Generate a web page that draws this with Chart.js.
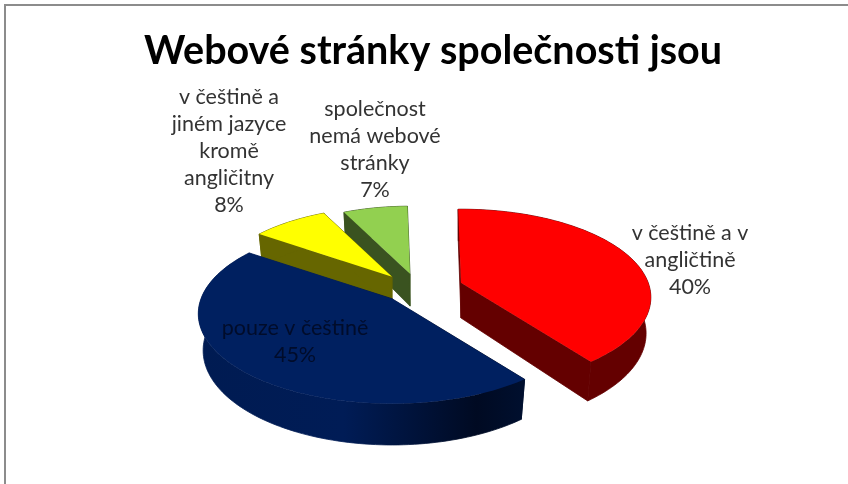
<!DOCTYPE html>
<html lang="cs">
<head>
<meta charset="utf-8">
<title>Webové stránky společnosti jsou</title>
<script src="https://cdn.jsdelivr.net/npm/chart.js@4"></script>
<style>
  html, body { margin: 0; background: #fff; overflow: hidden; }
  #chart { position: absolute; left: 0; top: 0; }
  #frame { position: absolute; left: 4px; top: 4px; right: -4px; bottom: -4px;
           border-left: 2px solid #8c8c8c; border-top: 2px solid #8c8c8c; }
</style>
</head>
<body>
<canvas id="chart" width="848" height="484"></canvas>
<div id="frame"></div>
<script>
const categories = [
  'v češtině a v angličtině',
  'pouze v češtině',
  'v češtině a jiném jazyce kromě angličitny',
  'společnost nemá webové stránky',
];
const shares = [40, 45, 8, 7];
const labelLines = [
  ['v češtině a v', 'angličtině'],
  ['pouze v češtině'],
  ['v češtině a', 'jiném jazyce', 'kromě', 'angličitny'],
  ['společnost', 'nemá webové', 'stránky'],
];

const topColors = ['#ff0000', '#002060', '#ffff00', '#92d050'];
const sideColors = ['#640000', '#001a4e', '#666600', '#3a5320'];
const labelColors = ['#333333', '#000c2a', '#333333', '#333333'];

// how far each wedge is pulled out of the pie, and its size after perspective
const explodeX = [28, -41, -41, -23];
const explodeY = [-13, 3, -19, -22];
const wedgeScale = [0.98, 1, 0.93, 0.9];
const labelX = [690, 295, 229, 375];
const labelY = [233, 328, 97, 109];

const TILT_H = 87.5;      // vertical half size of the flattened disc
const PERSPECTIVE = 1 / 6;
const DEPTH = 36;
const LINE_HEIGHT = 27;

function rimPoint(arc, i, angle, bottom) {
  const u = Math.cos(angle), v = Math.sin(angle);
  const w = 1 - PERSPECTIVE * v;
  const s = wedgeScale[i];
  const ox = arc.x + explodeX[i], oy = arc.y + explodeY[i];
  if (bottom) {
    return [ox + s * arc.outerRadius * 0.975 * u / w, oy + s * DEPTH + s * TILT_H * 1.05 * v / w];
  }
  return [ox + s * arc.outerRadius * u / w, oy + s * TILT_H * v / w];
}

function apexPoint(arc, i, bottom) {
  return [arc.x + explodeX[i], arc.y + explodeY[i] + (bottom ? wedgeScale[i] * DEPTH : 0)];
}

function fillPath(ctx, pts, fill, seal) {
  ctx.beginPath();
  pts.forEach((p, n) => (n ? ctx.lineTo(p[0], p[1]) : ctx.moveTo(p[0], p[1])));
  ctx.closePath();
  ctx.fillStyle = fill;
  ctx.fill();
  if (seal) {
    // closes the hairline left between neighbouring wall polygons
    ctx.strokeStyle = fill;
    ctx.lineWidth = 0.8;
    ctx.stroke();
  }
}

function sampleAngles(arc) {
  const out = [];
  const steps = Math.max(8, Math.ceil((arc.endAngle - arc.startAngle) * 40));
  for (let k = 0; k <= steps; k++) {
    out.push(arc.startAngle + (arc.endAngle - arc.startAngle) * k / steps);
  }
  return out;
}

function sideFill(ctx, i) {
  if (i !== 1) return sideColors[i];
  // the big front wedge darkens towards its right end
  const g = ctx.createLinearGradient(198, 0, 522, 0);
  g.addColorStop(0, '#001b52');
  g.addColorStop(0.45, '#001c56');
  g.addColorStop(0.86, '#000a22');
  g.addColorStop(1, '#000f2e');
  return g;
}

// The pie controller works out the slice angles, this draws them as a tilted solid.
const solidPie = {
  id: 'solidPie',
  beforeDatasetDraw(chart) {
    const ctx = chart.ctx;
    const arcs = chart.getDatasetMeta(0).data;
    [3, 2, 0, 1].forEach((i) => {
      const arc = arcs[i];
      const angles = sampleAngles(arc);
      const side = sideFill(ctx, i);
      [arc.startAngle, arc.endAngle].forEach((a) => {
        fillPath(ctx, [apexPoint(arc, i), rimPoint(arc, i, a), rimPoint(arc, i, a, true), apexPoint(arc, i, true)], side, true);
      });
      const upper = angles.map((a) => rimPoint(arc, i, a));
      const lower = angles.map((a) => rimPoint(arc, i, a, true));
      fillPath(ctx, upper.concat(lower.reverse()), side, true);
      fillPath(ctx, [apexPoint(arc, i)].concat(upper), topColors[i]);
    });
    return false;
  },
  afterDraw(chart) {
    const ctx = chart.ctx;
    ctx.save();
    ctx.font = '21.5px Lato';
    ctx.textAlign = 'center';
    ctx.textBaseline = 'middle';
    labelLines.forEach((lines, i) => {
      ctx.fillStyle = labelColors[i];
      lines.concat(shares[i] + '%').forEach((line, n) => {
        ctx.fillText(line, labelX[i], labelY[i] + n * LINE_HEIGHT);
      });
    });
    ctx.restore();
  },
};

new Chart(document.getElementById('chart'), {
  type: 'pie',
  data: {
    labels: categories,
    datasets: [{ data: shares, backgroundColor: topColors, borderWidth: 0 }],
  },
  options: {
    responsive: false,
    animation: false,
    events: [],
    rotation: -1,
    radius: 191,
    layout: { padding: { left: 18 } },
    plugins: {
      legend: { display: false },
      tooltip: { enabled: false },
      title: {
        display: true,
        text: 'Webové stránky společnosti jsou',
        color: '#000',
        font: { family: 'Lato', size: 39.5, weight: 'bold', lineHeight: 1.2 },
        padding: { top: 28, bottom: 32 },
      },
    },
  },
  plugins: [solidPie],
});
</script>
</body>
</html>
